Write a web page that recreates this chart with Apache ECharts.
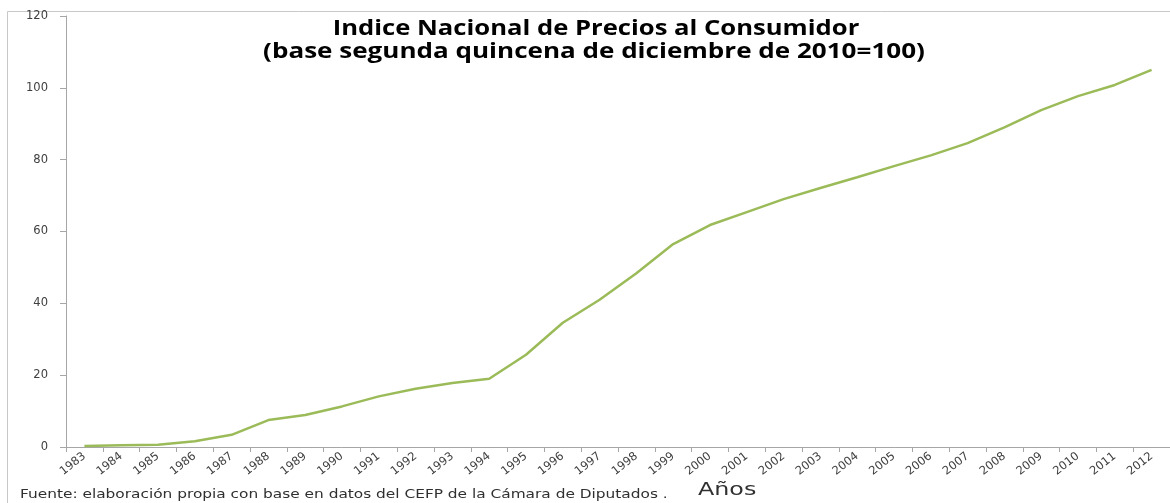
<!DOCTYPE html>
<html>
<head>
<meta charset="utf-8">
<script src="https://cdn.jsdelivr.net/npm/echarts@6/dist/echarts.min.js"></script>
<style>
html,body{margin:0;padding:0;background:#fff;}
#chart{width:1170px;height:503px;}
</style>
</head>
<body>
<div id="chart"></div>
<script>
const years = ['1983','1984','1985','1986','1987','1988','1989','1990','1991','1992','1993','1994','1995','1996','1997','1998','1999','2000','2001','2002','2003','2004','2005','2006','2007','2008','2009','2010','2011','2012'];
const inpc = [0.3,0.5,0.6,1.6,3.4,7.5,8.9,11.3,14.1,16.2,17.8,19.0,25.7,34.6,41.0,48.4,56.5,61.8,65.4,69.0,72.1,75.1,78.2,81.2,84.6,89.0,93.8,97.7,100.8,105.0];
const yMin = 0, yMax = 120, yStep = 20;
const titleLines = ['Indice Nacional de Precios al Consumidor', '(base segunda quincena de diciembre de 2010=100)'];
const axisNameX = 'Años';
const sourceNote = 'Fuente: elaboración propia con base en datos del CEFP de la Cámara de Diputados .';

const chart = echarts.init(document.getElementById('chart'), null, {renderer: 'canvas'});
const titleStyle = {fontFamily: 'Open Sans', fontWeight: 'bold', fontSize: 21, fill: '#000000', align: 'center', verticalAlign: 'middle'};
chart.setOption({
  animation: false,
  backgroundColor: '#ffffff',
  grid: {left: 66, top: 16, bottom: 56, width: 1107, containLabel: false},
  xAxis: {
    type: 'category', data: years, boundaryGap: true,
    axisLine: {lineStyle: {color: '#a6a6a6', width: 1}},
    axisTick: {show: true, length: 5, lineStyle: {color: '#a6a6a6'}},
    axisLabel: {rotate: 38, margin: 8, fontSize: 11.5, fontFamily: 'DejaVu Sans', color: '#404040', interval: 0},
    splitLine: {show: false}
  },
  yAxis: {
    type: 'value', min: yMin, max: yMax, interval: yStep,
    axisLine: {show: true, lineStyle: {color: '#a6a6a6', width: 1}},
    axisTick: {show: true, length: 6, lineStyle: {color: '#a6a6a6'}},
    axisLabel: {margin: 18, fontSize: 11.5, fontFamily: 'DejaVu Sans', color: '#404040'},
    splitLine: {show: false}
  },
  series: [{
    type: 'line', data: inpc, symbol: 'none', smooth: false,
    lineStyle: {color: '#9bbb59', width: 2.5}
  }],
  graphic: [
    {type: 'rect', shape: {x: 7.5, y: 11.5, width: 1300, height: 700}, style: {fill: 'none', stroke: '#c8c8c8', lineWidth: 1}, silent: true},
    {type: 'text', x: 596, y: 29, scaleX: 1.22, style: Object.assign({text: titleLines[0]}, titleStyle)},
    {type: 'text', x: 594, y: 52, scaleX: 1.24, style: Object.assign({text: titleLines[1]}, titleStyle)},
    {type: 'text', x: 20, y: 495, scaleX: 1.28, style: {text: sourceNote, fontFamily: 'DejaVu Sans', fontSize: 12, fill: '#303030', verticalAlign: 'middle'}},
    {type: 'text', x: 698, y: 491, scaleX: 1.4, style: {text: axisNameX, fontFamily: 'DejaVu Sans', fontSize: 17, fill: '#303030', verticalAlign: 'middle'}}
  ]
});
</script>
</body>
</html>
